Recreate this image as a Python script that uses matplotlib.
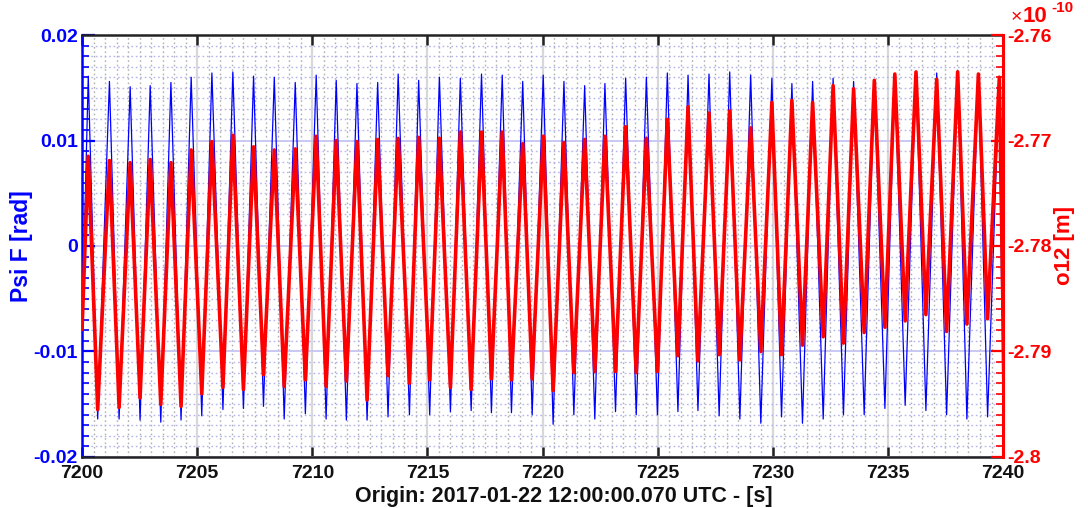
import numpy as np
import matplotlib
matplotlib.use('Agg')
from matplotlib import pyplot as plt
from matplotlib.ticker import MultipleLocator, FormatStrFormatter

plt.rcParams['font.family'] = ['Liberation Sans', 'DejaVu Sans']
plt.rcParams['font.weight'] = 'bold'
plt.rcParams['axes.unicode_minus'] = False

# extrema (time in s, Psi F in rad, o12 in 1e-10 m)
peak_t = [7200.27, 7201.19, 7202.09, 7202.96, 7203.86, 7204.74, 7205.64, 7206.55,
          7207.45, 7208.35, 7209.26, 7210.17, 7211.04, 7211.94, 7212.84, 7213.73,
          7214.62, 7215.52, 7216.43, 7217.35, 7218.25, 7219.14, 7220.03, 7220.93,
          7221.83, 7222.71, 7223.61, 7224.51, 7225.42, 7226.32, 7227.23, 7228.13,
          7229.04, 7229.96, 7230.83, 7231.73, 7232.62, 7233.51, 7234.41, 7235.30,
          7236.22, 7237.12, 7238.03, 7238.93, 7239.84]
trough_t = [7200.68, 7201.61, 7202.52, 7203.42, 7204.30, 7205.20, 7206.12, 7207.01,
            7207.88, 7208.78, 7209.70, 7210.60, 7211.48, 7212.38, 7213.29, 7214.22,
            7215.10, 7216.00, 7216.90, 7217.78, 7218.65, 7219.55, 7220.46, 7221.36,
            7222.27, 7223.17, 7224.07, 7224.99, 7225.88, 7226.75, 7227.67, 7228.57,
            7229.48, 7230.38, 7231.29, 7232.19, 7233.07, 7233.97, 7234.87, 7235.75,
            7236.65, 7237.55, 7238.43, 7239.33]

psi_peaks = [0.0161, 0.0156, 0.0151, 0.0152, 0.0155, 0.0160, 0.0164, 0.0165, 0.0161,
             0.0160, 0.0155, 0.0162, 0.0157, 0.0154, 0.0155, 0.0163, 0.0157, 0.0160,
             0.0159, 0.0163, 0.0162, 0.0156, 0.0162, 0.0156, 0.0152, 0.0154, 0.0159,
             0.0160, 0.0164, 0.0162, 0.0163, 0.0165, 0.0162, 0.0159, 0.0154, 0.0156,
             0.0159, 0.0156, 0.0157, 0.0163, 0.0165, 0.0164, 0.0166, 0.0163, 0.0160]
psi_troughs = [-0.0164, -0.0164, -0.0165, -0.0167, -0.0165, -0.0161, -0.0155, -0.0154,
               -0.0152, -0.0164, -0.0159, -0.0164, -0.0165, -0.0165, -0.0162, -0.0160,
               -0.0160, -0.0157, -0.0156, -0.0158, -0.0158, -0.0160, -0.0169, -0.0160,
               -0.0164, -0.0157, -0.0160, -0.0160, -0.0157, -0.0156, -0.0161, -0.0164,
               -0.0168, -0.0162, -0.0168, -0.0164, -0.0160, -0.0160, -0.0154, -0.0151,
               -0.0156, -0.0160, -0.0164, -0.0162]
psi_start, psi_end = -0.0080, -0.0165

o12_peaks = [-2.7715, -2.7719, -2.7721, -2.7718, -2.7721, -2.7709, -2.7701, -2.7695,
             -2.7706, -2.7709, -2.7708, -2.7696, -2.7700, -2.7701, -2.7699, -2.7698,
             -2.7697, -2.7698, -2.7692, -2.7692, -2.7692, -2.7703, -2.7696, -2.7702,
             -2.7699, -2.7696, -2.7687, -2.7698, -2.7680, -2.7668, -2.7674, -2.7672,
             -2.7688, -2.7664, -2.7662, -2.7664, -2.7648, -2.7651, -2.7643, -2.7637,
             -2.7635, -2.7642, -2.7635, -2.7637, -2.7640]
o12_troughs = [-2.7955, -2.7953, -2.7944, -2.7950, -2.7952, -2.7940, -2.7934, -2.7936,
               -2.7922, -2.7933, -2.7927, -2.7933, -2.7928, -2.7946, -2.7923, -2.7930,
               -2.7927, -2.7934, -2.7936, -2.7926, -2.7927, -2.7926, -2.7937, -2.7920,
               -2.7919, -2.7919, -2.7920, -2.7919, -2.7904, -2.7909, -2.7903, -2.7908,
               -2.7900, -2.7903, -2.7894, -2.7886, -2.7892, -2.7882, -2.7877, -2.7871,
               -2.7865, -2.7881, -2.7874, -2.7869]
o12_start, o12_end = -2.7879, -2.7864

t_start, t_end = 7200.0, 7240.0


def series(start, peaks, troughs, end):
    t = [t_start]
    v = [start]
    for i in range(len(peaks)):
        t.append(peak_t[i])
        v.append(peaks[i])
        if i < len(troughs):
            t.append(trough_t[i])
            v.append(troughs[i])
    t.append(t_end)
    v.append(end)
    return np.array(t), np.array(v)


t_psi, v_psi = series(psi_start, psi_peaks, psi_troughs, psi_end)
t_o12, v_o12 = series(o12_start, o12_peaks, o12_troughs, o12_end)

fig = plt.figure(figsize=(10.88, 5.08), dpi=100)
ax = fig.add_axes([0.0754, 0.1004, 0.8465, 0.8307])
ax2 = ax.twinx()

ax.plot(t_psi, v_psi, color='#0000ff', linewidth=0.9, zorder=3)
ax2.plot(t_o12, v_o12, color='#ff0000', linewidth=2.6, zorder=3)

ax.set_xlim(t_start, t_end)
ax.set_ylim(-0.02, 0.02)
ax2.set_ylim(-2.80, -2.76)

ax.xaxis.set_major_locator(MultipleLocator(5))
ax.xaxis.set_minor_locator(MultipleLocator(0.5))
ax.yaxis.set_major_locator(MultipleLocator(0.01))
ax.yaxis.set_minor_locator(MultipleLocator(0.001))
ax2.yaxis.set_major_locator(MultipleLocator(0.01))
ax2.yaxis.set_minor_locator(MultipleLocator(0.001))
ax.yaxis.set_major_formatter(FormatStrFormatter('%g'))
ax2.yaxis.set_major_formatter(FormatStrFormatter('%g'))

# grid
ax.grid(which='major', axis='x', color='#d8d8d8', linewidth=1.6, linestyle='-')
ax.grid(which='minor', axis='x', color='#b0b0b0', linewidth=1.0, linestyle=(0, (1.2, 2.0)))
ax.grid(which='major', axis='y', color='#c8c8f4', linewidth=1.4, linestyle='-')
ax.grid(which='minor', axis='y', color='#b4b4ee', linewidth=1.0, linestyle=(0, (1.2, 2.0)))
ax.set_axisbelow(True)

# spines
for s in ['top', 'bottom']:
    ax.spines[s].set_color('#222222')
    ax.spines[s].set_linewidth(1.8)
ax.spines['left'].set_color('#0000ff')
ax.spines['left'].set_linewidth(1.8)
ax2.spines['right'].set_color('#ff0000')
ax2.spines['right'].set_linewidth(2.2)
ax2.spines['left'].set_visible(False)
ax2.spines['top'].set_visible(False)
ax2.spines['bottom'].set_visible(False)
ax.spines['right'].set_visible(False)

ax.tick_params(axis='x', which='major', direction='in', top=True, bottom=True,
               length=7, width=1.8, color='#222222', labelsize=14, pad=6,
               labelcolor='#111111')
ax.tick_params(axis='x', which='minor', length=0)
ax.tick_params(axis='y', which='major', direction='in', left=True, right=False,
               length=9, width=1.6, color='#0000ff', labelcolor='#0000ff',
               labelsize=14, pad=3)
ax.tick_params(axis='y', which='minor', direction='in', left=True, right=False,
               length=5, width=1.2, color='#0000ff')
ax2.tick_params(axis='y', which='major', direction='in', right=True, left=False,
                length=9, width=1.6, color='#ff0000', labelcolor='#ff0000',
                labelsize=14, pad=3)
ax2.tick_params(axis='y', which='minor', direction='in', right=True, left=False,
                length=5, width=1.2, color='#ff0000')

ax.set_xlabel('Origin: 2017-01-22 12:00:00.070 UTC - [s]', fontsize=15.5,
              fontweight='bold', color='#111111')
ax.xaxis.set_label_coords(0.523, -0.069)
ax.set_ylabel('Psi F [rad]', fontsize=16.5, fontweight='bold', color='#0000ff')
ax.yaxis.set_label_coords(-0.053, 0.5)
ax2.set_ylabel('o12 [m]', fontsize=16, fontweight='bold', color='#ff0000',
               labelpad=2)

fig.text(0.929, 0.957, '\u00d7', color='#ff0000', fontsize=14, fontweight='normal')
fig.text(0.940, 0.957, '10', color='#ff0000', fontsize=16, fontweight='bold')
fig.text(0.966, 0.976, '-10', color='#ff0000', fontsize=11, fontweight='bold')

fig.savefig('out.png', dpi=100)
